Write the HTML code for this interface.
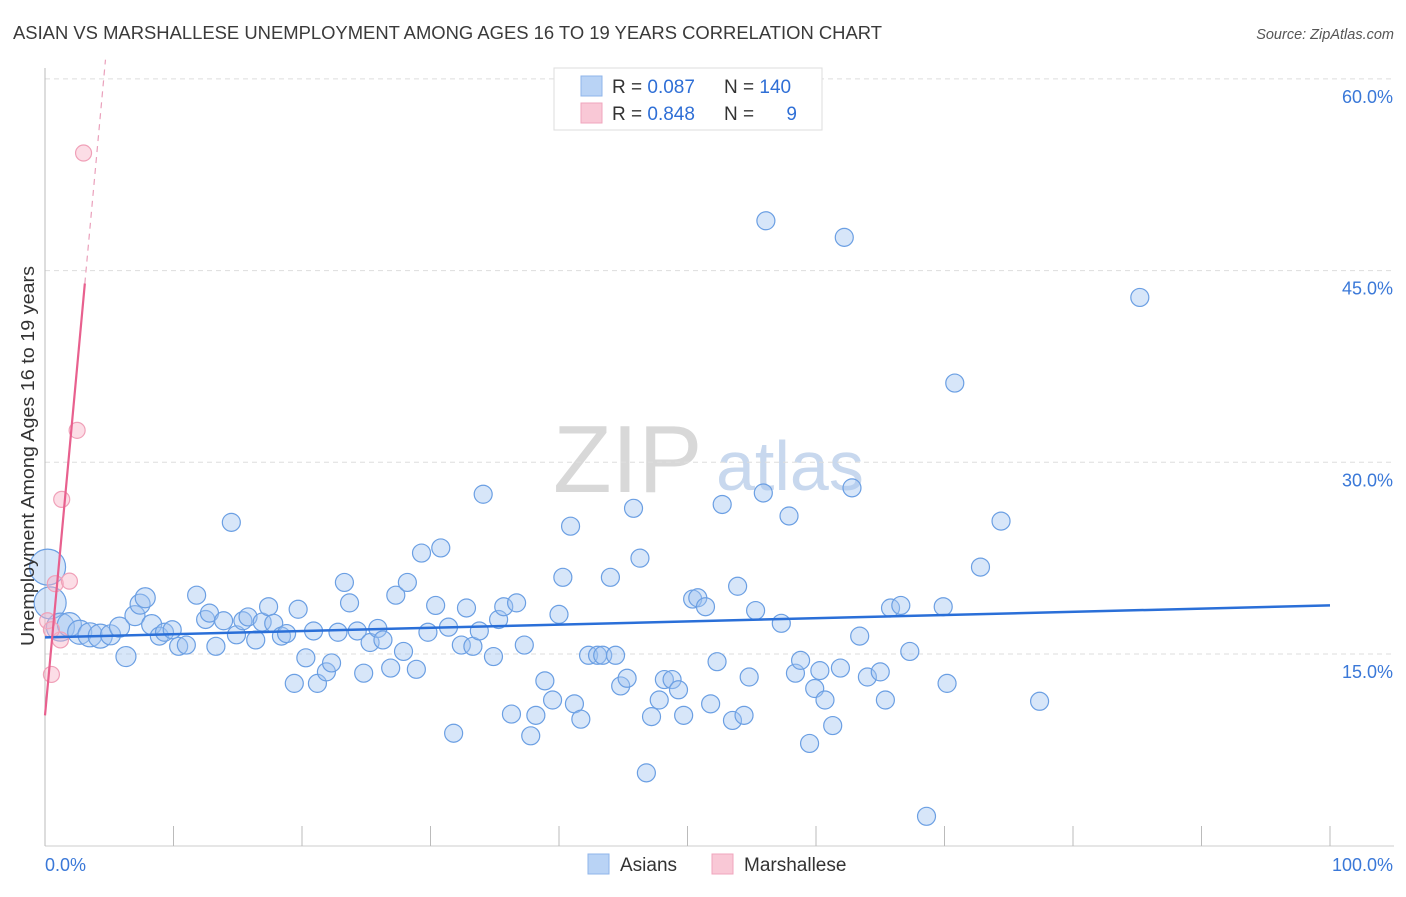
<!DOCTYPE html>
<html><head><meta charset="utf-8"><style>
body{margin:0;background:#fff;font-family:"Liberation Sans",sans-serif;}
svg text{font-family:"Liberation Sans",sans-serif;}
</style></head><body>
<svg id="chart" width="1406" height="892" xmlns="http://www.w3.org/2000/svg">
<text x="13" y="39" font-size="18.4" fill="#3a3a3a" textLength="869" lengthAdjust="spacingAndGlyphs">ASIAN VS MARSHALLESE UNEMPLOYMENT AMONG AGES 16 TO 19 YEARS CORRELATION CHART</text>
<text x="1394" y="39" font-size="14.5" fill="#555" font-style="italic" text-anchor="end">Source: ZipAtlas.com</text>
<g>
<text x="553" y="492" font-size="96" fill="#d8d8d8" font-family="Liberation Serif, serif">ZIP</text>
<text x="716" y="490" font-size="70" fill="#c8d8ee">atlas</text>
</g>
<g id="grid"></g>
<g id="axes"></g>
<g id="marks"></g>
<g>
<rect x="554" y="68" width="268" height="62" fill="#fff" stroke="#ddd"/>
<rect x="581" y="76" width="21" height="20" fill="#b9d3f5" stroke="#8fb5ea"/>
<rect x="581" y="103" width="21" height="20" fill="#f9c8d6" stroke="#f0a6bd"/>
<text x="612" y="93" font-size="19" fill="#333">R = <tspan fill="#2f6fd6">0.087</tspan></text>
<text x="724" y="93" font-size="19" fill="#333">N = <tspan fill="#2f6fd6">140</tspan></text>
<text x="612" y="120" font-size="19" fill="#333">R = <tspan fill="#2f6fd6">0.848</tspan></text>
<text x="724" y="120" font-size="19" fill="#333">N = </text>
<text x="797" y="120" font-size="19" fill="#2f6fd6" text-anchor="end">9</text>
</g>
<g>
<rect x="588" y="854" width="21" height="20" fill="#b9d3f5" stroke="#8fb5ea"/>
<text x="620" y="871" font-size="19" fill="#333">Asians</text>
<rect x="712" y="854" width="21" height="20" fill="#f9c8d6" stroke="#f0a6bd"/>
<text x="744" y="871" font-size="19" fill="#333">Marshallese</text>
</g>
<text transform="translate(34,456) rotate(-90)" font-size="18" fill="#333" text-anchor="middle" textLength="380" lengthAdjust="spacingAndGlyphs">Unemployment Among Ages 16 to 19 years</text>
</svg>
<script>
const asianX=[0.2,0.4,1.2,1.9,2.7,3.5,4.3,5.1,5.8,6.3,7.0,7.4,7.8,8.3,8.9,9.3,9.9,10.4,11.0,11.8,12.5,12.8,13.3,13.9,14.5,14.9,15.4,15.8,16.4,16.9,17.4,17.8,18.4,18.8,19.4,19.7,20.3,20.9,21.2,21.9,22.3,22.8,23.3,23.7,24.3,24.8,25.3,25.9,26.3,26.9,27.3,27.9,28.2,28.9,29.3,29.8,30.4,30.8,31.4,31.8,32.4,32.8,33.3,33.8,34.1,34.9,35.3,35.7,36.7,36.3,37.3,37.8,38.2,38.9,39.5,40.0,40.3,40.9,41.2,41.7,42.3,43.0,43.4,44.0,44.4,44.8,45.3,45.8,46.3,46.8,47.2,47.8,48.2,48.8,49.3,49.7,50.4,50.8,51.4,51.8,52.3,52.7,53.5,53.9,54.4,54.8,55.3,55.9,56.1,57.3,57.9,58.4,58.8,59.5,59.9,60.3,60.7,61.3,61.9,62.2,62.8,63.4,64.0,65.0,65.4,65.8,66.6,67.3,68.6,69.9,70.2,70.8,72.8,74.4,77.4,85.2];
const asianY=[21.8,19.0,17.1,17.3,16.7,16.5,16.4,16.5,17.1,14.8,18.0,18.9,19.4,17.3,16.4,16.7,16.9,15.6,15.7,19.6,17.7,18.2,15.6,17.6,25.3,16.5,17.6,17.9,16.1,17.5,18.7,17.4,16.4,16.6,12.7,18.5,14.7,16.8,12.7,13.6,14.3,16.7,20.6,19.0,16.8,13.5,15.9,17.0,16.1,13.9,19.6,15.2,20.6,13.8,22.9,16.7,18.8,23.3,17.1,8.8,15.7,18.6,15.6,16.8,27.5,14.8,17.7,18.7,19.0,10.3,15.7,8.6,10.2,12.9,11.4,18.1,21.0,25.0,11.1,9.9,14.9,14.9,14.9,21.0,14.9,12.5,13.1,26.4,22.5,5.7,10.1,11.4,13.0,13.0,12.2,10.2,19.3,19.4,18.7,11.1,14.4,26.7,9.8,20.3,10.2,13.2,18.4,27.6,48.9,17.4,25.8,13.5,14.5,8.0,12.3,13.7,11.4,9.4,13.9,47.6,28.0,16.4,13.2,13.6,11.4,18.6,18.8,15.2,2.3,18.7,12.7,36.2,21.8,25.4,11.3,42.9];
const asianBigRadius=[18,16,14,12,12,12,12,10,10,10,10,10,10,10];
const marshX=[0.5,0.2,0.8,1.9,1.3,2.5,3.0,1.2,0.5];
const marshY=[13.4,17.6,20.5,20.7,27.1,32.5,54.2,16.1,16.9];
const asianTrend=[16.3,18.8]; // value at x=0, x=100
const marshTrend=[10.2,10.9]; // intercept, slope
const yTicks=[15,30,45,60];
const yTickLabels=["15.0%","30.0%","45.0%","60.0%"];
const xTicks=[0,10,20,30,40,50,60,70,80,90,100];

const NS="http://www.w3.org/2000/svg";
const X0=45,X1=1330,Y0=845.7,YSCALE=12.78;
function sx(v){return X0+(X1-X0)*v/100;}
function sy(v){return Y0-v*YSCALE;}
function mk(tag,attrs,parent){const e=document.createElementNS(NS,tag);for(const k in attrs)e.setAttribute(k,attrs[k]);parent.appendChild(e);return e;}
const grid=document.getElementById('grid'),axes=document.getElementById('axes'),marks=document.getElementById('marks');
yTicks.forEach((t,i)=>{
 const l=mk('line',{x1:X0,x2:1394,y1:sy(t),y2:sy(t),stroke:'#ddd','stroke-dasharray':'5,4'},grid);
 
 
 const tx=mk('text',{x:1393,y:sy(t)+24,'font-size':18,fill:'#3a78d8','text-anchor':'end'},axes);
 tx.textContent=yTickLabels[i];
 
 
});
const ax=mk('line',{x1:X0,x2:X0,y1:68,y2:846,stroke:'#bbb'},axes);


const bx=mk('line',{x1:X0,x2:1394,y1:846,y2:846,stroke:'#ccc'},axes);


xTicks.forEach(t=>{
 const l=mk('line',{x1:sx(t),x2:sx(t),y1:826,y2:846,stroke:'#bbb'},axes);
 
 
});
[[0,"0.0%","start",45],[100,"100.0%","end",1393]].forEach(a=>{
 const t=mk('text',{x:a[3],y:871,'font-size':18,fill:'#3a78d8','text-anchor':a[2]},axes);
 t.textContent=a[1];
 
 
});
asianX.forEach((x,i)=>{
 const r=i<asianBigRadius.length?asianBigRadius[i]:9;
 const c=mk('circle',{cx:sx(x),cy:sy(asianY[i]),r:r,fill:'rgba(160,196,240,0.42)',stroke:'#6b9fe3','stroke-width':1.2},marks);
 
 
});
marshX.forEach((x,i)=>{
 const c=mk('circle',{cx:sx(x),cy:sy(marshY[i]),r:8,fill:'rgba(248,180,200,0.45)',stroke:'#f0a0b8','stroke-width':1.2},marks);
 
 
});
const bl=mk('line',{x1:sx(0),y1:sy(asianTrend[0]),x2:sx(100),y2:sy(asianTrend[1]),stroke:'#2a6fd8','stroke-width':2.5},marks);


const mEnd=3.1, mDash=(61.5-marshTrend[0])/marshTrend[1];
const pl=mk('line',{x1:sx(0),y1:sy(marshTrend[0]),x2:sx(mEnd),y2:sy(marshTrend[0]+marshTrend[1]*mEnd),stroke:'#e8608e','stroke-width':2.2},marks);


const pd=mk('line',{x1:sx(mEnd),y1:sy(marshTrend[0]+marshTrend[1]*mEnd),x2:sx(mDash),y2:sy(61.5),stroke:'#eaa0bb','stroke-width':1.2,'stroke-dasharray':'6,5'},marks);


</script>
</body></html>
